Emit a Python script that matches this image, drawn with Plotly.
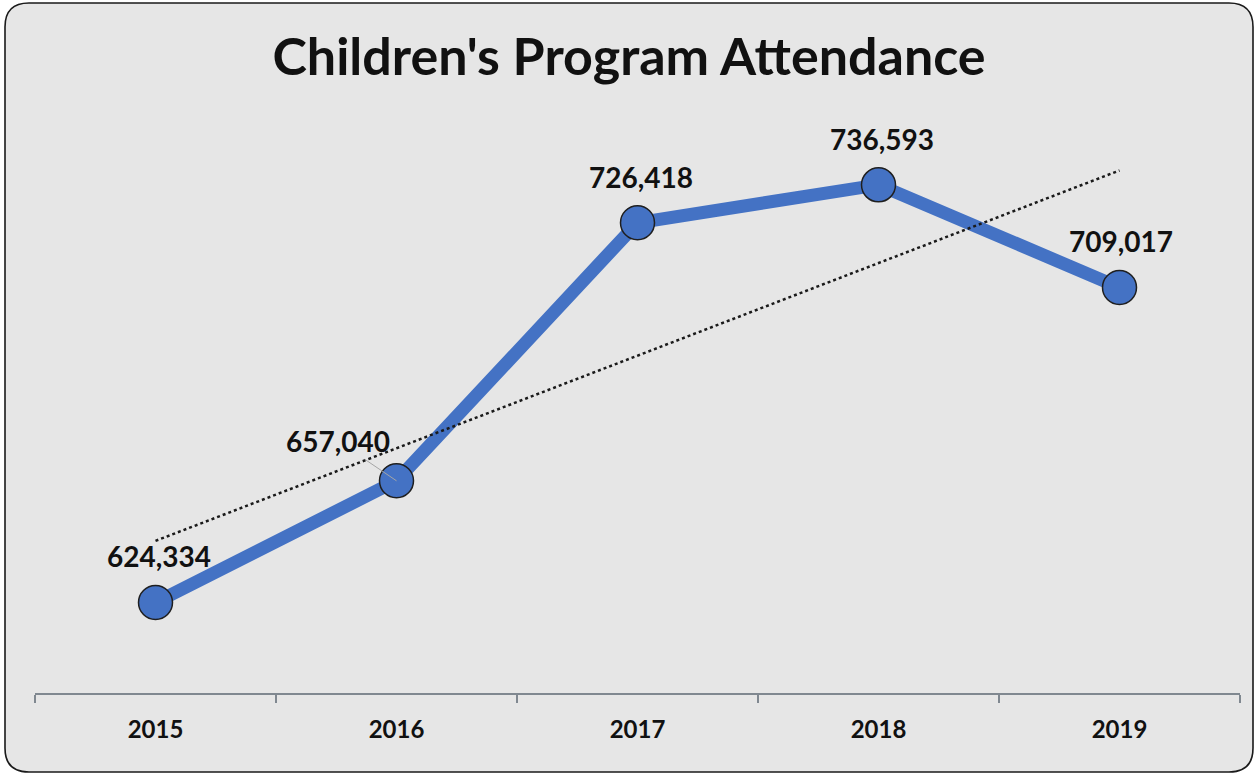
import numpy as np
import plotly.graph_objects as go

years = ["2015", "2016", "2017", "2018", "2019"]
attendance = [624334, 657040, 726418, 736593, 709017]

BLUE = "#4472C4"
W, H = 1258, 775
# plot area in pixels
L, R, T, B = 35, 1240, 135, 693

# linear trendline over the five years
xs = np.arange(1, len(years) + 1)
slope, icpt = np.polyfit(xs, attendance, 1)
trend = slope * xs + icpt

fig = go.Figure()
fig.add_trace(go.Scatter(
    x=years, y=attendance, mode="lines+markers",
    line=dict(color=BLUE, width=13),
    marker=dict(size=34, color=BLUE, line=dict(color="#1f1f1f", width=1.5)),
    hoverinfo="skip", showlegend=False,
))
fig.add_trace(go.Scatter(
    x=years, y=trend, mode="lines",
    line=dict(color="#1a1a1a", width=2.5, dash="dot"),
    hoverinfo="skip", showlegend=False,
))

# data labels (x given as category index so "2015" isn't read as a number)
lab_font = dict(family="Lato", size=28, color="#111111", weight="bold")
for i, v in enumerate(attendance):
    label = f"{v:,}"
    if i == 1:
        fig.add_annotation(x=i, y=v, text=label, showarrow=True, arrowhead=0,
                           arrowwidth=1, arrowcolor="#a6a6a6", standoff=0,
                           ax=-59, ay=-40, font=lab_font)
    else:
        fig.add_annotation(x=i, y=v, text=label, showarrow=False, yshift=46,
                           xshift=3 if i != 4 else 1, font=lab_font)


# rounded background panel, drawn in paper coordinates
def P(X, Y):
    u, v = (X - L) / (R - L), (B - Y) / (B - T)
    return f"{u:.5f},{v:.5f}"


x0, y0, x1, y1, r = 5, 3, 1253, 772, 24
path = (f"M {P(x0 + r, y0)} L {P(x1 - r, y0)} Q {P(x1, y0)} {P(x1, y0 + r)} "
        f"L {P(x1, y1 - r)} Q {P(x1, y1)} {P(x1 - r, y1)} "
        f"L {P(x0 + r, y1)} Q {P(x0, y1)} {P(x0, y1 - r)} "
        f"L {P(x0, y0 + r)} Q {P(x0, y0)} {P(x0 + r, y0)} Z")
fig.add_shape(type="path", path=path, xref="paper", yref="paper", layer="below",
              fillcolor="#e6e6e6", line=dict(color="#1a1a1a", width=1.6))

fig.update_layout(
    width=W, height=H,
    margin=dict(l=L, r=W - R, t=T, b=H - B),
    paper_bgcolor="white", plot_bgcolor="rgba(0,0,0,0)",
    title=dict(text="<b>Children's Program Attendance</b>", x=0.5, xanchor="center",
               y=1 - 57 / H, yanchor="middle",
               font=dict(family="Lato", size=52, color="#111111")),
    xaxis=dict(type="category", range=[-0.5, 4.5], tickson="boundaries",
               showline=True, linecolor="#808890", linewidth=1.5,
               ticks="outside", ticklen=8, tickcolor="#808890", tickwidth=1.5,
               showgrid=False, zeroline=False, ticklabelstandoff=14,
               tickfont=dict(family="Lato", size=24, color="#111111", weight="bold")),
    yaxis=dict(range=[600000, 750000], visible=False, showgrid=False),
)

fig.write_html("out.html", config={"displayModeBar": False},
               post_script="document.body.style.margin='0';")
